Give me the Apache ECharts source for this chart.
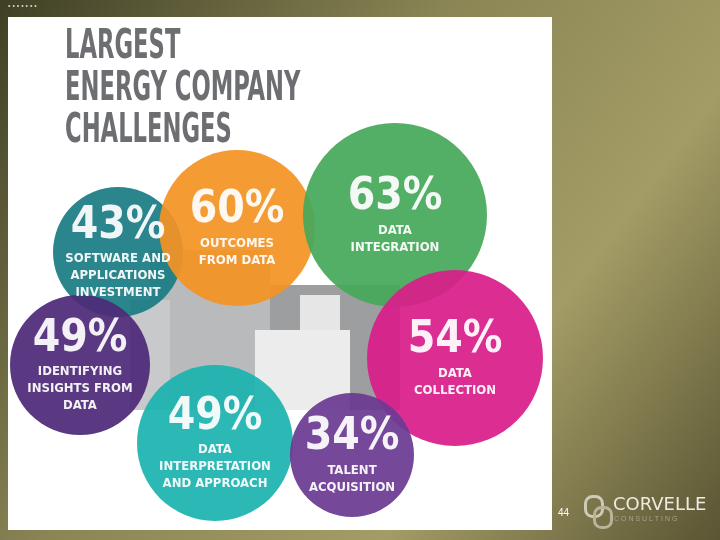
<!DOCTYPE html>
<html>
<head>
<meta charset="UTF-8">
<title>Largest Energy Company Challenges</title>
<script src="https://cdn.jsdelivr.net/npm/echarts@6/dist/echarts.min.js"></script>
<style>
  html, body {margin: 0; padding: 0;}
  #chart {width: 720px; height: 540px;}
</style>
</head>
<body>
<div id="chart"></div>
<script>
// bubble data
var pcts   = [43, 60, 63, 49, 54, 49, 34];
var labels = ['SOFTWARE AND\nAPPLICATIONS\nINVESTMENT', 'OUTCOMES\nFROM DATA', 'DATA\nINTEGRATION',
              'IDENTIFYING\nINSIGHTS FROM\nDATA', 'DATA\nCOLLECTION', 'DATA\nINTERPRETATION\nAND APPROACH',
              'TALENT\nACQUISITION'];
var xs     = [118, 237, 395, 80, 455, 215, 352];
var ys     = [252, 228, 215, 365, 358, 443, 455];
var sizes  = [130, 156, 184, 140, 176, 156, 124];
var colors = ['#1b7c83', '#f39325', '#46a85a', '#4e2a78', '#d91e8a', '#1cb3ae', '#6c3a92'];

var font = '"DejaVu Sans Condensed", "Liberation Sans Narrow", sans-serif';

var points = pcts.map(function (p, i) {
  return {
    value: [xs[i], ys[i]],
    symbolSize: sizes[i],
    itemStyle: {color: colors[i], opacity: 0.93},
    label: {formatter: '{p|' + p + '%}\n{t|' + labels[i].split('\n').join('}\n{t|') + '}'}
  };
});

var gray = '#9d9ea0';
var building = [
  {type: 'rect', shape: {x: 150, y: 250, width: 120, height: 160}, style: {fill: '#b9babc'}},
  {type: 'rect', shape: {x: 270, y: 285, width: 130, height: 125}, style: {fill: gray}},
  {type: 'rect', shape: {x: 300, y: 295, width: 40, height: 90}, style: {fill: '#e6e6e6'}},
  {type: 'rect', shape: {x: 255, y: 330, width: 95, height: 80}, style: {fill: '#ececec'}},
  {type: 'rect', shape: {x: 130, y: 300, width: 40, height: 110}, style: {fill: '#c8c9ca'}}
];
building.forEach(function (b) { b.z = 0; });

var chart = echarts.init(document.getElementById('chart'));
chart.setOption({
  backgroundColor: {
    type: 'linear', x: 0, y: 0, x2: 1, y2: 1,
    colorStops: [{offset: 0, color: '#3f3f26'}, {offset: 0.4, color: '#8a8554'},
                 {offset: 0.7, color: '#a39c66'}, {offset: 1, color: '#5a5533'}]
  },
  grid: {left: 0, right: 0, top: 0, bottom: 0},
  xAxis: {type: 'value', min: 0, max: 720, show: false},
  yAxis: {type: 'value', min: 0, max: 540, inverse: true, show: false},
  graphic: [
    {type: 'rect', z: -1, shape: {x: 8, y: 17, width: 544, height: 513}, style: {fill: '#ffffff'}},
    {type: 'text', z: 0, x: 65, y: 27, scaleX: 0.63, style: {
      text: 'LARGEST\nENERGY COMPANY\nCHALLENGES', fill: '#6d6e71',
      fontFamily: font, fontWeight: 'bold', fontSize: 40, lineHeight: 42}},
    {type: 'text', left: 8, top: 3, style: {text: '• • • • • • •', fill: '#d8d4b0', fontSize: 7}},
    {type: 'text', left: 558, top: 508, style: {text: '44', fill: '#ffffff', fontSize: 10}},
    {type: 'rect', left: 583, top: 494, shape: {width: 17, height: 20, r: 7}, style: {fill: 'none', stroke: '#cfcbb8', lineWidth: 3}},
    {type: 'rect', left: 592, top: 505, shape: {width: 17, height: 20, r: 7}, style: {fill: 'none', stroke: '#b8b49c', lineWidth: 3}},
    {type: 'text', left: 613, top: 496, style: {text: 'CORVELLE', fill: '#ecebe2', fontSize: 18, fontFamily: 'DejaVu Sans'}},
    {type: 'text', left: 614, top: 516, style: {text: 'C O N S U L T I N G', fill: '#a5a38f', fontSize: 7}}
  ].concat(building),
  series: [{
    type: 'scatter',
    z: 3,
    symbol: 'circle',
    data: points,
    label: {
      show: true, position: 'inside',
      rich: {
        p: {fontFamily: font, fontWeight: 'bold', fontSize: 44, color: '#ffffff', lineHeight: 48},
        t: {fontFamily: font, fontWeight: 'bold', fontSize: 13, color: '#ffffff', lineHeight: 17}
      }
    },
    emphasis: {disabled: true}
  }]
});
</script>
</body>
</html>
